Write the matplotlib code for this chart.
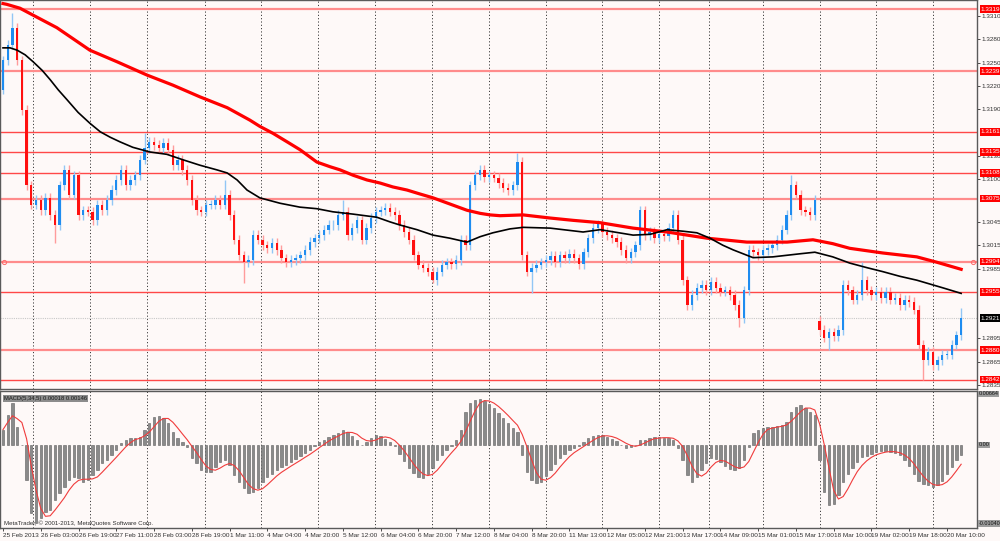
import numpy as np
import pandas as pd
import matplotlib
matplotlib.use('Agg')
import matplotlib.pyplot as plt
import matplotlib.transforms as mtransforms

# EURUSD, 2-hour bars, closes in pips above/below 1.3000
closes_pips = [
    253, 273, 295, 253, 189, 92, 67, 73, 60, 76,
    54, 41, 92, 112, 80, 105, 54, 60, 58, 47,
    67, 60, 73, 86, 99, 112, 92, 99, 105, 125,
    140, 148, 144, 140, 147, 138, 118, 125, 112, 99,
    73, 60, 58, 67, 67, 73, 67, 80, 54, 22,
    2, -7, -4, 28, 22, 15, 11, 18, 9, -2,
    -7, -4, -2, 2, 9, 19, 24, 28, 35, 41,
    41, 54, 58, 28, 37, 47, 22, 37, 50, 58,
    60, 63, 58, 54, 41, 32, 22, 2, -10, -14,
    -19, -30, -19, -10, -7, -9, -4, 22, 15, 92,
    105, 112, 103, 105, 102, 95, 89, 86, 92, 122,
    2, -19, -14, -10, -7, -4, 1, -7, 2, -2,
    4, -2, -9, 6, 24, 37, 42, 32, 28, 24,
    19, 9, -2, 6, 15, 60, 28, 32, 24, 29,
    27, 37, 54, 22, -30, -62, -49, -40, -36, -43,
    -32, -40, -45, -43, -49, -62, -79, -43, 9, 6,
    2, 9, 11, 15, 22, 35, 54, 92, 80, 60,
    58, 54, 73, -94, -104, -97, -102, -94, -36, -43,
    -55, -49, -30, -43, -49, -45, -53, -45, -55, -53,
    -62, -55, -58, -68, -113, -133, -122, -139, -133, -126,
    -126, -113, -101, -79,
]
first_open = 215
gap_open = {173: -82}          # weekend gap 15 Mar -> 18 Mar
spike_highs = {2: 314, 30: 160, 47: 99, 72: 73, 109: 134, 167: 105, 182: -7, 203: -66}
spike_lows = {11: 18, 51: -34, 91: -34, 112: -47, 156: -90, 175: -120, 195: -159}

# moving averages (bar index, pips)
red_ma_bars = [0, 0.8, 3.6, 6.4, 11.4, 18.4, 24.2, 30.5, 36, 41.7, 47.5, 52.3, 54.4, 57.2,
               60.2, 62.9, 66.5, 69.3, 71.4, 74.2, 77.1, 79.9, 82.6, 85.6, 88.3, 91.1, 94.7,
               98.3, 101.1, 103.2, 105.3, 110.2, 115.9, 120.8, 126.5, 133.5, 140.7, 149.2,
               157.6, 166.1, 171.6, 175.8, 179.4, 186.4, 193.6, 197.9, 203]
red_ma_vals = [326, 325, 320, 311, 295, 266, 251, 234, 221, 206, 192, 176, 168, 159,
               148, 138, 122, 116, 112, 105, 99, 95, 90, 86, 81, 76, 68,
               60, 56, 54, 53, 54, 50, 47, 44, 37, 32, 24,
               19, 19, 22, 17, 11, 5, 0, -7, -16]
black_ma_bars = [0, 1.5, 3.0, 4.7, 6.4, 8.3, 10.0, 11.7, 13.6, 15.9, 18.4, 20.6, 22.7, 24.8,
                 27.5, 31.1, 34.7, 38.1, 41.7, 45.3, 47.5, 49.6, 51.7, 54.4, 58.7, 62.9, 66.5,
                 69.9, 74.2, 79.2, 82.0, 84.1, 87.7, 91.1, 94.7, 98.3, 101.1, 103.8, 107.4,
                 110.2, 115.9, 122.9, 126.5, 133.5, 137.1, 140.7, 144.1, 147.0, 149.8, 152.5,
                 154.7, 158.9, 163.1, 168.9, 172.0, 175.8, 179.4, 183.1, 186.4, 190.0, 193.6,
                 199.2, 203]
black_ma_vals = [269, 269, 266, 260, 251, 240, 228, 215, 202, 186, 172, 161, 154, 148,
                 141, 135, 132, 125, 118, 112, 108, 99, 86, 76, 69, 64, 62,
                 58, 55, 51, 45, 41, 35, 28, 24, 19, 26, 31, 36,
                 38, 37, 32, 35, 28, 29, 35, 33, 31, 24, 15,
                 9, -1, 0, 4, 6, 0, -8, -14, -19, -25, -30,
                 -40, -47]

# MACD histogram, units of 0.0001
macd_vals = [
    20, 39, 55, 23, 0, -46, -88, -101, -95, -87,
    -85, -72, -63, -54, -46, -41, -43, -48, -46, -39,
    -33, -24, -20, -13, -7, 3, 7, 9, 9, 10,
    20, 28, 37, 38, 35, 28, 17, 9, 4, -2,
    -17, -24, -33, -35, -35, -28, -22, -20, -26, -39,
    -48, -56, -62, -61, -56, -48, -42, -38, -33, -29,
    -26, -22, -18, -14, -10, -7, -1, 4, 7, 10,
    13, 16, 20, 17, 12, 7, 0, 4, 9, 13,
    12, 8, 4, -1, -12, -21, -30, -36, -42, -43,
    -38, -30, -20, -13, -7, -1, 7, 20, 43, 55,
    59, 60, 57, 53, 48, 42, 35, 29, 22, 17,
    -13, -35, -46, -49, -48, -40, -33, -25, -17, -12,
    -7, -4, -1, 4, 9, 12, 13, 13, 10, 8,
    5, 0, -4, -3, 0, 7, 7, 9, 10, 10,
    9, 9, 7, -4, -20, -39, -48, -42, -33, -23,
    -17, -18, -22, -27, -31, -33, -30, -20, -3, 16,
    20, 22, 23, 23, 25, 26, 30, 43, 49, 52,
    48, 43, 39, -20, -61, -78, -77, -65, -48, -38,
    -30, -22, -16, -14, -12, -9, -8, -8, -9, -10,
    -13, -20, -27, -38, -47, -51, -52, -55, -52, -47,
    -38, -29, -20, -13,
]

levels = [1.3319, 1.3239, 1.3161, 1.3135, 1.3108, 1.3075, 1.2994, 1.2955, 1.2880, 1.2842]
soft_levels = [1.3319, 1.3239, 1.3075, 1.2994, 1.2880]
bid = 1.2921
price_ticks = [1.3310, 1.3280, 1.3250, 1.3220, 1.3190, 1.3130, 1.3100, 1.3045, 1.3015,
               1.2985, 1.2895, 1.2865, 1.2835]
time_labels = ['25 Feb 2013', '26 Feb 03:00', '26 Feb 19:00', '27 Feb 11:00', '28 Feb 03:00',
               '28 Feb 19:00', '1 Mar 11:00', '4 Mar 04:00', '4 Mar 20:00', '5 Mar 12:00',
               '6 Mar 04:00', '6 Mar 20:00', '7 Mar 12:00', '8 Mar 04:00', '8 Mar 20:00',
               '11 Mar 13:00', '12 Mar 05:00', '12 Mar 21:00', '13 Mar 17:00', '14 Mar 09:00',
               '15 Mar 01:00', '15 Mar 17:00', '18 Mar 10:00', '19 Mar 02:00', '19 Mar 18:00',
               '20 Mar 10:00']
grid_bars = [6.4, 18.4, 30.5, 42.7, 54.7, 66.7, 78.8, 90.9, 103, 115, 127, 139, 149.5,
             161, 173, 185, 197]

plt.rcParams['font.family'] = ['Liberation Sans', 'DejaVu Sans']
fs = 4.6

base = 1.3
pip = 1e-4
wick = 6 * pip

close = base + np.array(closes_pips) * pip
open_ = np.r_[base + first_open * pip, close[:-1]]
for k, v in gap_open.items():
    open_[k] = base + v * pip
top = np.maximum(open_, close)
bot = np.minimum(open_, close)
high = top + wick
low = bot - wick
for k, v in spike_highs.items():
    high[k] = base + v * pip
for k, v in spike_lows.items():
    low[k] = base + v * pip
x = np.arange(len(close))
up = close >= open_

bg = '#FEF9F8'
W, H = 1000, 541
fig = plt.figure(figsize=(10, 5.41), dpi=100, facecolor=bg)
ax = fig.add_axes([0, 1 - 389 / H, 977 / W, 389 / H], facecolor=bg)
mx = fig.add_axes([0, 1 - 528 / H, 977 / W, (528 - 391) / H], facecolor=bg)

xlim = (-3 / 4.72, 974 / 4.72)
for a in (ax, mx):
    a.set_xlim(*xlim)
    for s in a.spines.values():
        s.set_color('#5A5A5A')
        s.set_linewidth(1.0)
    for g in grid_bars:
        a.axvline(g, color='#3C3C3C', lw=0.7, ls=(0, (1.2, 2.2)), zorder=0.5)

ax.set_ylim(base + (310 - (389 - 16) * 1.287) * pip, base + (310 + 16 * 1.287) * pip)

# level lines
for lv in levels:
    if lv in soft_levels:
        ax.axhline(lv, color='#FF8C8C', lw=1.6, zorder=1)
    else:
        ax.axhline(lv, color='#FF4848', lw=1.0, zorder=1)
ax.axhline(bid, color='#C8C8C8', lw=0.8, ls=(0, (1, 1)), zorder=1)
ax.plot([0.2, 205.6], [1.2994, 1.2994], 'o', mfc='none', mec='#FF6A6A', ms=3, mew=0.7,
        clip_on=False, zorder=4)

# candles
wick_col = np.where(up, '#92C6F5', '#FF9C9C')
body_col = np.where(up, '#1E8CF0', '#FF1010')
ax.vlines(x, low, high, colors=wick_col, lw=1.0, zorder=2)
ax.bar(x, np.maximum(top - bot, 0.5 * pip), bottom=bot, width=0.5, color=body_col,
       linewidth=0, zorder=2.1)

# moving averages
ax.plot(red_ma_bars, base + np.array(red_ma_vals) * pip, color='#FF0000', lw=2.3, zorder=3,
        solid_joinstyle='round')
ax.plot(black_ma_bars, base + np.array(black_ma_vals) * pip, color='#000000', lw=1.2, zorder=3,
        solid_joinstyle='round')

ax.set_xticks([])
ax.yaxis.tick_right()
ax.set_yticks(price_ticks)
ax.set_yticklabels([f'{t:.4f}' for t in price_ticks])
ax.tick_params(axis='y', labelsize=fs, length=2, pad=1.2, colors='#303030', width=0.6)

tr = mtransforms.blended_transform_factory(ax.transAxes, ax.transData)
for lv in levels:
    ax.text(1.004, lv, f'{lv:.4f}', transform=tr, ha='left', va='center', fontsize=fs,
            color='white', clip_on=False, zorder=10,
            bbox=dict(boxstyle='square,pad=0.2', fc='#FF0000', ec='none'))
ax.text(1.004, bid, f'{bid:.4f}', transform=tr, ha='left', va='center', fontsize=fs,
        color='white', clip_on=False, zorder=10,
        bbox=dict(boxstyle='square,pad=0.2', fc='#000000', ec='none'))

# MACD panel
macd = np.array(macd_vals, dtype=float)
signal = pd.Series(macd).rolling(4, min_periods=1).mean().values
xm = np.arange(len(macd))
mx.set_ylim(-107.9, 70.2)
mx.bar(xm, macd, width=0.5, color='#8A8A8A', edgecolor='#5E5E5E', linewidth=0.4, zorder=2)
mx.plot(xm, signal, color='#F03C3C', lw=0.8, zorder=3)
mx.set_yticks([])

mtr = mtransforms.blended_transform_factory(mx.transAxes, mx.transData)
for val, txt in [(66.4, '0.00664'), (0, '0.00'), (-102, '-0.01040')]:
    mx.text(1.002, val, txt, transform=mtr, ha='left', va='center', fontsize=3.9,
            color='#101010', clip_on=False, zorder=10,
            bbox=dict(boxstyle='square,pad=0.12', fc='#9C9C9C', ec='none'))

mx.text(0.004, 0.965, 'MACD(5,34,5) 0.00018 0.00146', transform=mx.transAxes, ha='left',
        va='top', fontsize=4.2, color='#1A1A1A', zorder=10,
        bbox=dict(boxstyle='square,pad=0.2', fc='#8C8C8C', ec='none'))
mx.text(0.004, 0.015, 'MetaTrader, \u00a9 2001-2013, MetaQuotes Software Corp.',
        transform=mx.transAxes, ha='left', va='bottom', fontsize=4.4, color='#303030', zorder=10)

mx.set_xticks(np.arange(0, 8 * len(time_labels), 8))
mx.set_xticklabels(time_labels)
for lab in mx.get_xticklabels():
    lab.set_horizontalalignment('left')
mx.tick_params(axis='x', labelsize=fs, length=2, pad=1.5, colors='#303030', width=0.6)

fig.savefig('out.png', dpi=100, facecolor=bg)
